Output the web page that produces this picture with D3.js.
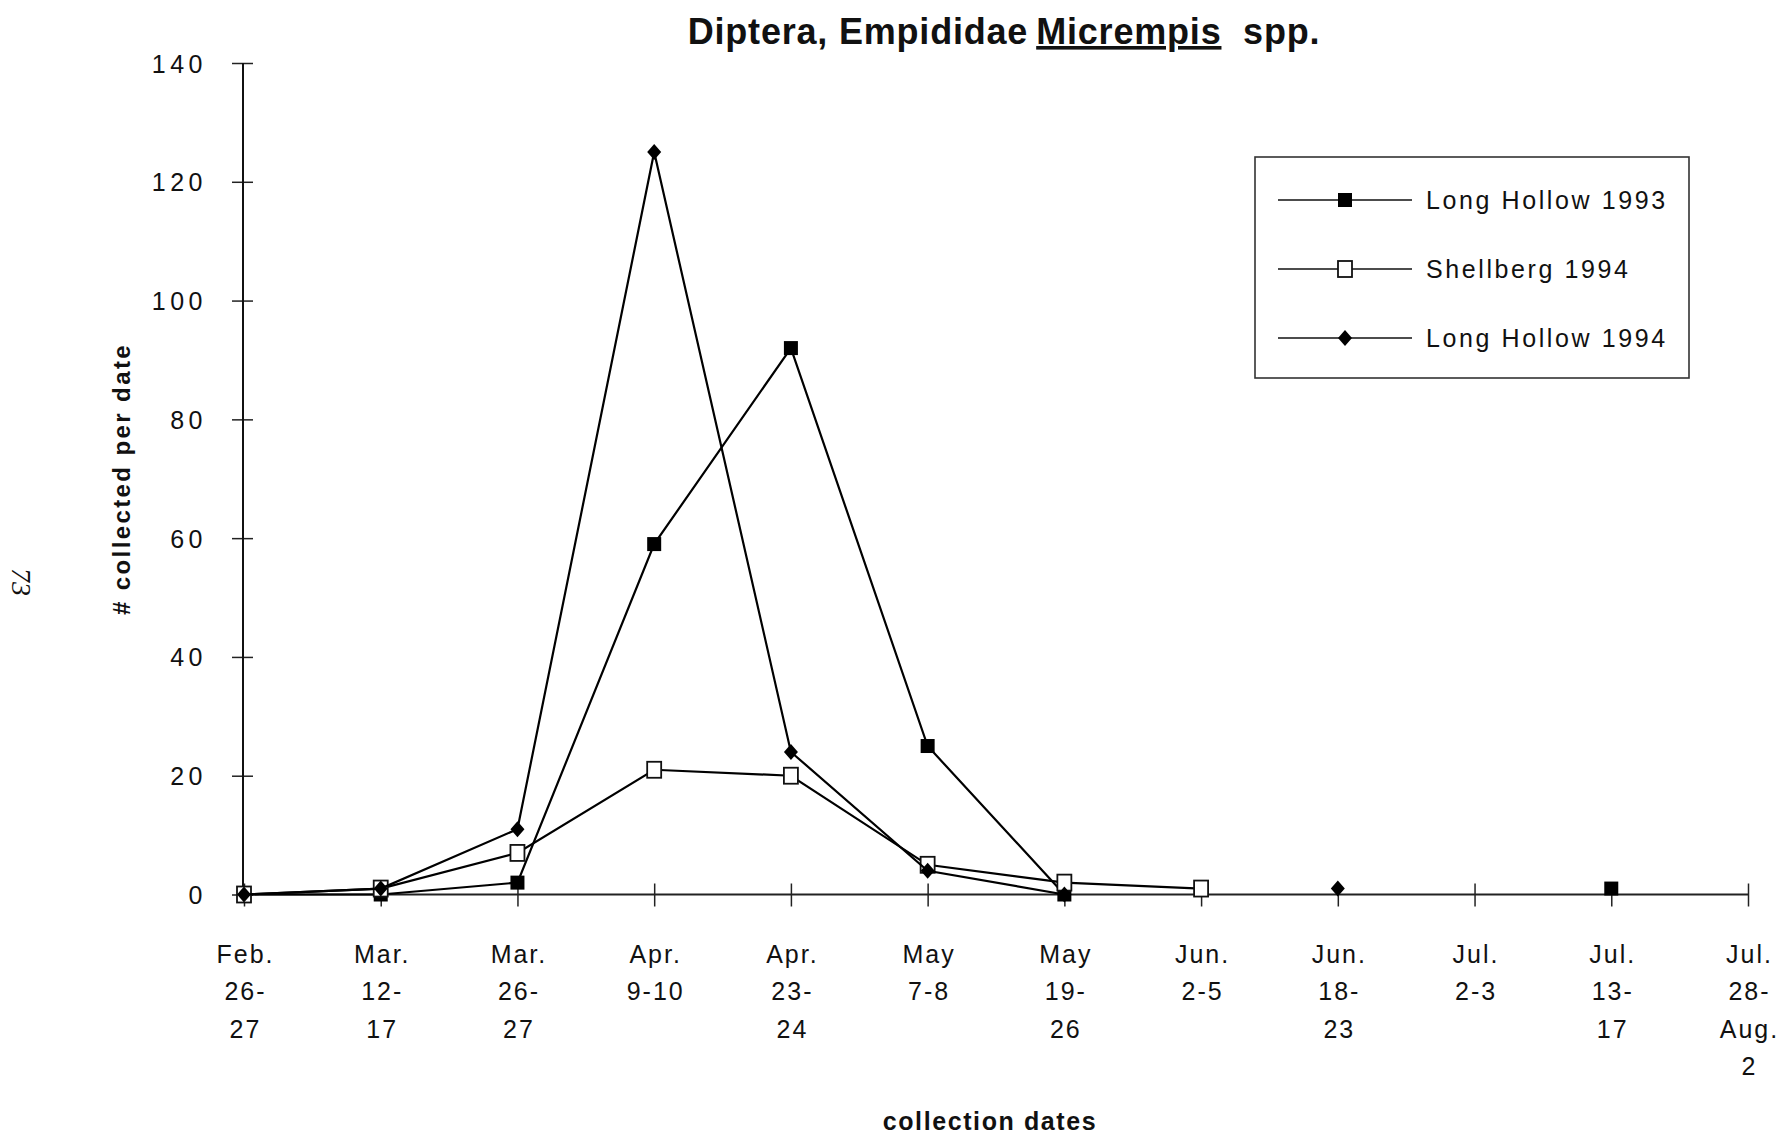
<!DOCTYPE html>
<html>
<head>
<meta charset="utf-8">
<script src="https://cdn.jsdelivr.net/npm/d3@7"></script>
<style>
  html, body { margin: 0; padding: 0; background: #fff; }
  svg { display: block; }
  text { font-family: "Liberation Sans", Arial, Helvetica, sans-serif; fill: #111; }
</style>
</head>
<body>
<svg id="chart" width="1789" height="1137"></svg>
<script>
// Collection dates (multi-line tick labels)
const dates = [
  ["Feb.", "26-", "27"],
  ["Mar.", "12-", "17"],
  ["Mar.", "26-", "27"],
  ["Apr.", "9-10"],
  ["Apr.", "23-", "24"],
  ["May", "7-8"],
  ["May", "19-", "26"],
  ["Jun.", "2-5"],
  ["Jun.", "18-", "23"],
  ["Jul.", "2-3"],
  ["Jul.", "13-", "17"],
  ["Jul.", "28-", "Aug.", "2"]
];
const dateKeys = dates.map(d => d.join(" "));

// Counts per collection date (null = not sampled)
const longHollow1993 = [0, 0, 2, 59, 92, 25, 0, null, null, null, 1, null];
const shellberg1994  = [0, 1, 7, 21, 20, 5, 2, 1, null, null, null, null];
const longHollow1994 = [0, 1, 11, 125, 24, 4, 0, null, 1, null, null, null];

const yTicks = [0, 20, 40, 60, 80, 100, 120, 140];

const seriesNames = ["Long Hollow 1993", "Shellberg 1994", "Long Hollow 1994"];
const seriesMarkers = ["filledSquare", "openSquare", "diamond"];
const seriesValues = [longHollow1993, shellberg1994, longHollow1994];

const svg = d3.select("#chart");

const x = d3.scalePoint().domain(dateKeys).range([244, 1748]);
const y = d3.scaleLinear().domain([0, 140]).range([894.5, 63]);

// Title
const title = svg.append("text")
  .attr("x", 1004).attr("y", 44)
  .attr("text-anchor", "middle")
  .style("font-size", "36px").style("font-weight", "bold").style("letter-spacing", "0.8px");
title.append("tspan").text("Diptera, Empididae");
title.append("tspan").attr("dx", 8).text("Micrempis").style("text-decoration", "underline");
title.append("tspan").attr("xml:space", "preserve").text("  spp.");

// Y axis
const yAxis = d3.axisLeft(y).tickValues(yTicks).tickSize(0).tickPadding(0).tickFormat(d3.format("d"));
const yG = svg.append("g").attr("transform", `translate(${x(dateKeys[0]) - 1},0)`).call(yAxis);
yG.select(".domain").remove();
yG.selectAll(".tick text")
  .attr("x", -36).attr("dy", "0.36em")
  .style("font-size", "25px").style("letter-spacing", "4.5px")
  .style("font-family", "'Liberation Sans', Arial, sans-serif").attr("fill", "#111");
yG.selectAll(".tick").append("line")
  .attr("x1", -11).attr("x2", 10).attr("stroke", "#222").attr("stroke-width", 1.5);
yG.append("line")
  .attr("x1", 0).attr("x2", 0).attr("y1", y(0)).attr("y2", y(140))
  .attr("stroke", "#111").attr("stroke-width", 2);

// X axis
const xAxis = d3.axisBottom(x).tickSize(0).tickFormat("");
const xG = svg.append("g").attr("transform", `translate(0,${y(0)})`).call(xAxis);
xG.select(".domain").remove();
xG.append("line")
  .attr("x1", x(dateKeys[0])).attr("x2", x(dateKeys[dateKeys.length - 1]))
  .attr("stroke", "#222").attr("stroke-width", 2);
xG.selectAll(".tick").append("line")
  .attr("y1", -11).attr("y2", 12).attr("stroke", "#222").attr("stroke-width", 1.5);
xG.selectAll(".tick text").remove();
xG.selectAll(".tick").each(function(d, i) {
  const t = d3.select(this).append("text")
    .attr("text-anchor", "middle")
    .attr("y", 68)
    .style("font-size", "25px").style("letter-spacing", "2px").attr("fill", "#111");
  dates[i].forEach((line, k) => {
    t.append("tspan").attr("x", 1).attr("dy", k === 0 ? 0 : 37.5).text(line);
  });
});

// Axis titles
svg.append("text")
  .attr("transform", "translate(122,479) rotate(-90)")
  .attr("text-anchor", "middle").attr("dy", "0.35em")
  .style("font-size", "24px").style("font-weight", "bold").style("letter-spacing", "2.4px")
  .text("# collected per date");

svg.append("text")
  .attr("x", 990).attr("y", 1130)
  .attr("text-anchor", "middle")
  .style("font-size", "25px").style("font-weight", "bold").style("letter-spacing", "1.6px")
  .text("collection dates");

// Page number
svg.append("text")
  .attr("transform", "translate(12,582) rotate(90)")
  .attr("text-anchor", "middle")
  .style("font-family", "'Liberation Serif', 'Times New Roman', serif")
  .style("font-style", "italic").style("font-size", "28px")
  .text("73");

// Marker drawing
function drawMarker(g, type, cx, cy) {
  if (type === "filledSquare") {
    g.append("rect").attr("x", cx - 7).attr("y", cy - 7).attr("width", 14).attr("height", 14)
      .attr("fill", "#000");
  } else if (type === "openSquare") {
    g.append("rect").attr("x", cx - 7).attr("y", cy - 8).attr("width", 14).attr("height", 16)
      .attr("fill", "#fff").attr("stroke", "#111").attr("stroke-width", 1.8);
  } else {
    g.append("path")
      .attr("d", `M${cx},${cy - 8}L${cx + 7},${cy}L${cx},${cy + 8}L${cx - 7},${cy}Z`)
      .attr("fill", "#000");
  }
}

// Series lines and markers
const line = d3.line()
  .defined(d => d.v !== null)
  .x(d => x(d.k)).y(d => y(d.v));

seriesValues.forEach((vals, s) => {
  const pts = vals.map((v, i) => ({ k: dateKeys[i], v }));
  const g = svg.append("g");
  g.append("path").datum(pts)
    .attr("d", line).attr("fill", "none")
    .attr("stroke", "#000").attr("stroke-width", 2.2);
  pts.filter(p => p.v !== null).forEach(p => drawMarker(g, seriesMarkers[s], x(p.k), y(p.v)));
});

// Legend
const lg = svg.append("g");
lg.append("rect").attr("x", 1255).attr("y", 157).attr("width", 434).attr("height", 221)
  .attr("fill", "#fff").attr("stroke", "#333").attr("stroke-width", 1.6);
seriesNames.forEach((name, i) => {
  const ly = 200 + i * 69;
  lg.append("line").attr("x1", 1278).attr("x2", 1412).attr("y1", ly).attr("y2", ly)
    .attr("stroke", "#111").attr("stroke-width", 1.6);
  drawMarker(lg, seriesMarkers[i], 1345, ly);
  lg.append("text").attr("x", 1426).attr("y", ly).attr("dy", "0.36em")
    .style("font-size", "25px").style("letter-spacing", "2.6px")
    .text(name);
});
</script>
</body>
</html>
